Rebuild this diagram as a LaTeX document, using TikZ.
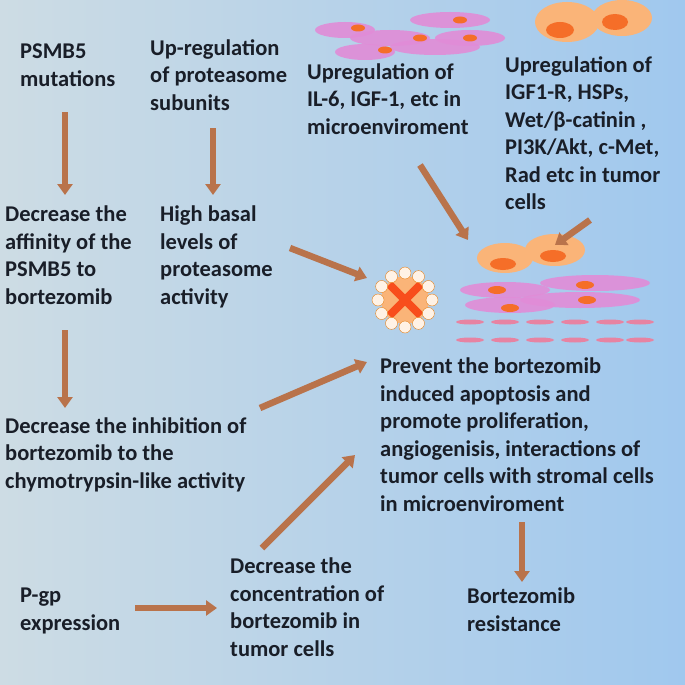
\documentclass[tikz,border=0pt]{standalone}
\usepackage{fontspec}
\setmainfont{Carlito}
\usetikzlibrary{arrows.meta,calc}
\definecolor{txt}{RGB}{25,30,40}
\definecolor{arr}{RGB}{185,115,75}
\definecolor{pinkc}{RGB}{225,140,215}
\definecolor{orc}{RGB}{250,180,120}
\definecolor{nuc}{RGB}{245,110,40}
\begin{document}
\begin{tikzpicture}[x=1pt,y=-1pt,
  lab/.style={anchor=north west,align=left,font=\bfseries\fontsize{22.5}{27.5}\selectfont,text=txt,inner sep=0pt},
  ar/.style={draw=arr,line width=6.5pt,-{Triangle[width=15pt,length=11pt]}},
  pink/.style={fill=pinkc,draw=none,opacity=0.9},
  orn/.style={fill=orc,draw=none},
  nu/.style={fill=nuc,draw=none}]
\shade[left color={rgb,255:red,205;green,220;blue,228},right color={rgb,255:red,160;green,200;blue,238}] (0,0) rectangle (685,685);
\useasboundingbox (0,0) rectangle (685,685);
% top center cells
\foreach \x/\y/\w in {345/30/30,450/20/40,435/47/45,390/38/40,365/52/30,470/38/35}{
  \fill[pink] (\x,\y) ellipse ({\w pt} and 8pt);}
\foreach \x/\y in {358/28,420/38,460/20,470/38,385/50}{\fill[nu] (\x,\y) ellipse (7pt and 3.5pt);}
% top right cells
\fill[orn] (567,22) ellipse (32pt and 20pt);
\fill[orn] (622,18) ellipse (30pt and 18pt);
\fill[nu] (560,30) ellipse (14pt and 8pt);
\fill[nu] (615,22) ellipse (13pt and 8pt);
% lower right cluster
\fill[orn] (505,258) ellipse (28pt and 15pt);
\fill[orn] (555,250) ellipse (30pt and 16pt);
\fill[nu] (503,264) ellipse (13pt and 6pt);
\fill[nu] (553,256) ellipse (13pt and 6pt);
\foreach \x/\y/\w in {505/290/45,595/283/55,580/300/60,510/305/45}{\fill[pink] (\x,\y) ellipse ({\w pt} and 8pt);}
\foreach \x/\y in {497/290,585/285,587/300,510/308}{\fill[nu] (\x,\y) ellipse (9pt and 4pt);}
\foreach \y in {322,340}{\foreach \x in {470,505,540,575,610,640}{\fill[pinkc!70!nuc] (\x,\y) ellipse (14pt and 2.5pt);}}
% proteasome
\fill[orc] (405,300) circle (24pt);
\fill[nuc!70!red,rotate around={45:(405,300)}] (383,296) rectangle (427,304);
\fill[nuc!70!red,rotate around={-45:(405,300)}] (383,296) rectangle (427,304);
\foreach \a in {0,30,...,330}{\fill[white!90!orange,draw=orange!60!brown,line width=0.4pt] ($(405,300)+(\a:27pt)$) circle (6pt);}
% texts
\node[lab] (psmb) at (20,44) {PSMB5\\mutations};
\node[lab] (upreg) at (150,39) {Up-regulation\\of proteasome\\subunits};
\node[lab] (il6) at (307,63) {Upregulation of\\IL-6, IGF-1, etc in\\microenviroment};
\node[lab] (igf) at (505,56) {Upregulation of\\IGF1-R, HSPs,\\Wet/β-catinin ,\\PI3K/Akt, c-Met,\\Rad etc in tumor\\cells};
\node[lab] (dec) at (5,206) {Decrease the\\affinity of the\\PSMB5 to\\bortezomib};
\node[lab] (high) at (160,206) {High basal\\levels of\\proteasome\\activity};
\node[lab] (prev) at (380,358) {Prevent the bortezomib\\induced apoptosis and\\promote proliferation,\\angiogenisis, interactions of\\tumor cells with stromal cells\\in microenviroment};
\node[lab] (inh) at (5,417) {Decrease the inhibition of\\bortezomib to the\\chymotrypsin-like activity};
\node[lab] (conc) at (230,558) {Decrease the\\concentration of\\bortezomib in\\tumor cells};
\node[lab] (pgp) at (20,588) {P-gp\\expression};
\node[lab] (res) at (467,588) {Bortezomib\\resistance};
% arrows
\draw[ar] (65,112) -- (65,195);
\draw[ar] (213,128) -- (213,195);
\draw[ar] (65,330) -- (65,408);
\draw[ar] (290,248) -- (367,278);
\draw[ar] (260,408) -- (367,362);
\draw[ar] (262,548) -- (355,455);
\draw[ar] (135,608) -- (217,608);
\draw[ar] (522,522) -- (522,582);
\draw[ar] (420,165) -- (468,240);
\draw[ar] (590,220) -- (555,245);
\end{tikzpicture}
\end{document}
